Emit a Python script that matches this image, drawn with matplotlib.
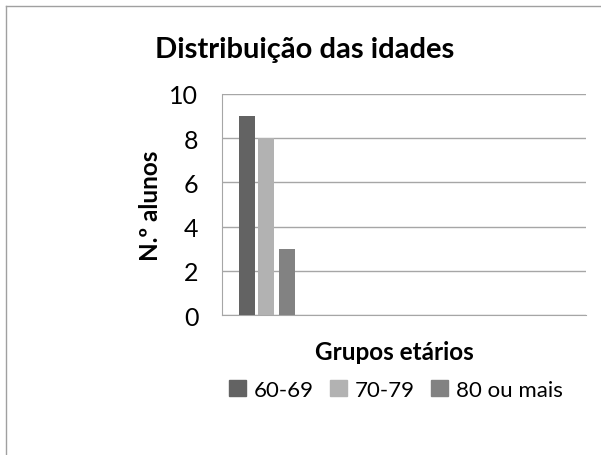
import matplotlib.pyplot as plt
from matplotlib.lines import Line2D

plt.rcParams['font.family'] = ['Lato', 'DejaVu Sans']

series = ['60-69', '70-79', '80 ou mais']
values = [9, 8, 3]
colors = ['#636363', '#b2b2b2', '#828282']
offsets = [-1.0, -0.05, 1.0]
yticks = [0, 2, 4, 6, 8, 10]


def main():
    fig = plt.figure(figsize=(6.01, 4.56), dpi=100)
    ax = fig.add_axes([222 / 601, 1 - 316 / 456, 364 / 601, 221 / 456])

    for name, v, c, off in zip(series, values, colors, offsets):
        ax.bar(off, v, width=0.8, color=c, label=name, zorder=3)

    ax.set_xlim(-2.25, 15.95)
    ax.set_ylim(0, 10)
    ax.set_yticks(yticks)
    ax.set_xticks([])
    ax.yaxis.grid(True, color='#a6a6a6', linewidth=1)
    ax.set_axisbelow(True)
    for s in ['top', 'right']:
        ax.spines[s].set_visible(False)
    ax.spines['left'].set_color('#a6a6a6')
    ax.spines['bottom'].set_color('#a6a6a6')
    ax.tick_params(axis='y', length=0, labelsize=18, pad=17)

    fig.text(305 / 601, 1 - 50 / 456, 'Distribuição das idades', ha='center',
             va='center', fontsize=21, fontweight='bold')
    fig.text(150 / 601, 1 - 206 / 456, 'N.º alunos', ha='center', va='center',
             rotation=90, fontsize=17.5, fontweight='bold')
    fig.text(394 / 601, 1 - 353 / 456, 'Grupos etários', ha='center',
             va='center', fontsize=17.5, fontweight='bold')

    handles = [plt.Rectangle((0, 0), 1, 1, color=c) for c in colors]
    fig.legend(handles, series, loc='center', bbox_to_anchor=(396 / 601, 1 - 391 / 456),
               ncol=3, frameon=False, fontsize=16, handlelength=0.75, handleheight=0.75,
               handletextpad=0.35, columnspacing=0.75)

    fig.add_artist(Line2D([6 / 601, 6 / 601], [0, 1 - 7 / 456], color='#a0a0a0', lw=1))
    fig.add_artist(Line2D([6 / 601, 1], [1 - 7 / 456, 1 - 7 / 456], color='#a0a0a0', lw=1))

    fig.savefig('out.png', dpi=100)


if __name__ == '__main__':
    main()
